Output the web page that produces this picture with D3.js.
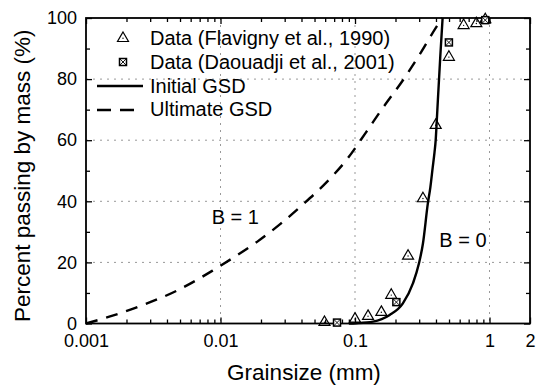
<!DOCTYPE html>
<head>
<meta charset="utf-8">
<style>
body { margin: 0; background: #fff; }
text { font-family: "Liberation Sans", Arial, sans-serif; fill: #000; }
</style>
</head>
<body>
<script src="https://cdn.jsdelivr.net/npm/d3@7"></script>
<script>
// data
var flavD = [0.0593, 0.1, 0.125, 0.157, 0.186, 0.248, 0.32, 0.398, 0.499, 0.642, 0.798, 0.93];
var flavP = [0.5, 1.6, 2.5, 3.8, 9.4, 22.2, 41.0, 65.0, 87.3, 97.7, 98.3, 99.6];
var daoD = [0.0735, 0.203, 0.499, 0.93];
var daoP = [0.3, 7.0, 92.0, 99.3];
var initD = [0.09, 0.102, 0.136, 0.181, 0.227, 0.27, 0.299, 0.32, 0.348, 0.363, 0.378, 0.39, 0.398, 0.405, 0.413, 0.43, 0.448];
var initP = [0, 0.1, 0.6, 2.8, 6.6, 13.2, 19.7, 26.2, 39.3, 44.5, 51, 56, 60, 66, 73, 87, 100];
var ultD = [0.001, 0.00151, 0.00267, 0.00476, 0.00873, 0.0126, 0.0188, 0.0279, 0.0411, 0.0613, 0.0863, 0.12, 0.153, 0.241, 0.311, 0.403, 0.447];
var ultP = [0, 2.3, 6.1, 10.8, 17.3, 21.7, 26.8, 32.6, 39.0, 46.2, 53.5, 62.4, 69.2, 81.3, 88.9, 97.1, 100];
var xMajor = [0.001, 0.01, 0.1, 1, 2];
var xGrid = [0.01, 0.1, 1];
var yMajor = [0, 20, 40, 60, 80, 100];
var yMinor = [10, 30, 50, 70, 90];
var yGrid = [20, 40, 60, 80];

var width = 538, height = 390;
var plotL = 86, plotR = 530, plotT = 18, plotB = 323.5;

var xMinor = [];
[0.001, 0.01, 0.1, 1].forEach(function (dec) {
    for (var k = 2; k <= 9; k++) {
        if (dec * k < 2) xMinor.push(dec * k);
    }
});

var svg = d3.select("body").append("svg")
    .attr("width", width)
    .attr("height", height);

var x = d3.scaleLog().domain([0.001, 2]).range([plotL, plotR]);
var y = d3.scaleLinear().domain([0, 100]).range([plotB, plotT]);

// grid
svg.append("g").selectAll("line").data(xGrid).enter().append("line")
    .attr("x1", d => x(d)).attr("x2", d => x(d))
    .attr("y1", plotT).attr("y2", plotB)
    .attr("stroke", "#999").attr("stroke-width", 1).attr("stroke-dasharray", "2,5");
svg.append("g").selectAll("line").data(yGrid).enter().append("line")
    .attr("x1", plotL).attr("x2", plotR)
    .attr("y1", d => y(d)).attr("y2", d => y(d))
    .attr("stroke", "#999").attr("stroke-width", 1).attr("stroke-dasharray", "2,5");

// axes with inward ticks
function styleAxis(g) {
    g.attr("font-family", null).attr("font-size", null);
    g.select(".domain").remove();
    g.selectAll(".tick line").attr("stroke", "#000").attr("stroke-width", 1.3);
    g.selectAll("text").style("font-size", "18px").attr("fill", "#000");
}
svg.append("g").attr("transform", "translate(0," + plotB + ")")
    .call(d3.axisBottom(x).tickValues(xMajor).tickFormat(d3.format("~g"))
        .tickSizeInner(-6).tickSizeOuter(0).tickPadding(11))
    .call(styleAxis);
svg.append("g").attr("transform", "translate(0," + plotB + ")")
    .call(d3.axisBottom(x).tickValues(xMinor).tickFormat("").tickSizeInner(-4).tickSizeOuter(0))
    .call(styleAxis);
svg.append("g").attr("transform", "translate(0," + plotT + ")")
    .call(d3.axisTop(x).tickValues(xMajor).tickFormat("").tickSizeInner(-6).tickSizeOuter(0))
    .call(styleAxis);
svg.append("g").attr("transform", "translate(0," + plotT + ")")
    .call(d3.axisTop(x).tickValues(xMinor).tickFormat("").tickSizeInner(-4).tickSizeOuter(0))
    .call(styleAxis);
svg.append("g").attr("transform", "translate(" + plotL + ",0)")
    .call(d3.axisLeft(y).tickValues(yMajor).tickSizeInner(-6).tickSizeOuter(0).tickPadding(9))
    .call(styleAxis);
svg.append("g").attr("transform", "translate(" + plotL + ",0)")
    .call(d3.axisLeft(y).tickValues(yMinor).tickFormat("").tickSizeInner(-4).tickSizeOuter(0))
    .call(styleAxis);
svg.append("g").attr("transform", "translate(" + plotR + ",0)")
    .call(d3.axisRight(y).tickValues(yMajor).tickFormat("").tickSizeInner(-6).tickSizeOuter(0))
    .call(styleAxis);
svg.append("g").attr("transform", "translate(" + plotR + ",0)")
    .call(d3.axisRight(y).tickValues(yMinor).tickFormat("").tickSizeInner(-4).tickSizeOuter(0))
    .call(styleAxis);

svg.append("rect")
    .attr("x", plotL).attr("y", plotT)
    .attr("width", plotR - plotL).attr("height", plotB - plotT)
    .attr("fill", "none").attr("stroke", "#000").attr("stroke-width", 1.8);

// curves
var line = d3.line().x(d => x(d[0])).y(d => y(d[1])).curve(d3.curveMonotoneX);
svg.append("path")
    .datum(d3.zip(ultD, ultP))
    .attr("d", line)
    .attr("fill", "none").attr("stroke", "#000").attr("stroke-width", 2.4)
    .attr("stroke-dasharray", "12,9");
svg.append("path")
    .datum(d3.zip(initD, initP))
    .attr("d", line)
    .attr("fill", "none").attr("stroke", "#000").attr("stroke-width", 2.4);

// markers
var triPath = "M0,-6L5.5,3.5L-5.5,3.5Z";
function triangle(g) {
    g.append("path").attr("d", triPath)
        .attr("fill", "none").attr("stroke", "#000").attr("stroke-width", 1.2);
    g.append("circle").attr("cx", 0).attr("cy", 0.3).attr("r", 0.7).attr("fill", "#000");
}
function boxX(g) {
    g.append("rect").attr("x", -3.5).attr("y", -3.5).attr("width", 7).attr("height", 7)
        .attr("fill", "#fff").attr("stroke", "#000").attr("stroke-width", 1.5);
    g.append("path").attr("d", "M-3.5,-3.5L3.5,3.5M3.5,-3.5L-3.5,3.5")
        .attr("stroke", "#000").attr("stroke-width", 0.9);
}
svg.append("g").selectAll("g").data(d3.zip(flavD, flavP)).enter().append("g")
    .attr("transform", d => "translate(" + x(d[0]) + "," + y(d[1]) + ")")
    .each(function () { triangle(d3.select(this)); });
svg.append("g").selectAll("g").data(d3.zip(daoD, daoP)).enter().append("g")
    .attr("transform", d => "translate(" + x(d[0]) + "," + y(d[1]) + ")")
    .each(function () { boxX(d3.select(this)); });

// legend
var lg = svg.append("g").style("font-size", "20px");
triangle(lg.append("g").attr("transform", "translate(123,38)"));
lg.append("text").attr("x", 150).attr("y", 45).text("Data (Flavigny et al., 1990)");
boxX(lg.append("g").attr("transform", "translate(123,62)"));
lg.append("text").attr("x", 150).attr("y", 68.5).text("Data (Daouadji et al., 2001)");
lg.append("line").attr("x1", 97).attr("x2", 143).attr("y1", 86).attr("y2", 86)
    .attr("stroke", "#000").attr("stroke-width", 2.4);
lg.append("text").attr("x", 150).attr("y", 92.7).text("Initial GSD");
lg.append("line").attr("x1", 97).attr("x2", 143).attr("y1", 110).attr("y2", 110)
    .attr("stroke", "#000").attr("stroke-width", 2.4).attr("stroke-dasharray", "14,9");
lg.append("text").attr("x", 150).attr("y", 116).text("Ultimate GSD");

// annotations
svg.append("text").attr("x", 211.7).attr("y", 224.3).style("font-size", "20px").text("B = 1");
svg.append("text").attr("x", 439.3).attr("y", 246.7).style("font-size", "20px").text("B = 0");

// axis titles
svg.append("text")
    .attr("x", 304).attr("y", 380)
    .attr("text-anchor", "middle").style("font-size", "22.5px")
    .text("Grainsize (mm)");
svg.append("text")
    .attr("transform", "translate(30," + ((plotT + plotB) / 2 + 5) + ") rotate(-90)")
    .attr("text-anchor", "middle").style("font-size", "22.5px")
    .text("Percent passing by mass (%)");
</script>
</body>
